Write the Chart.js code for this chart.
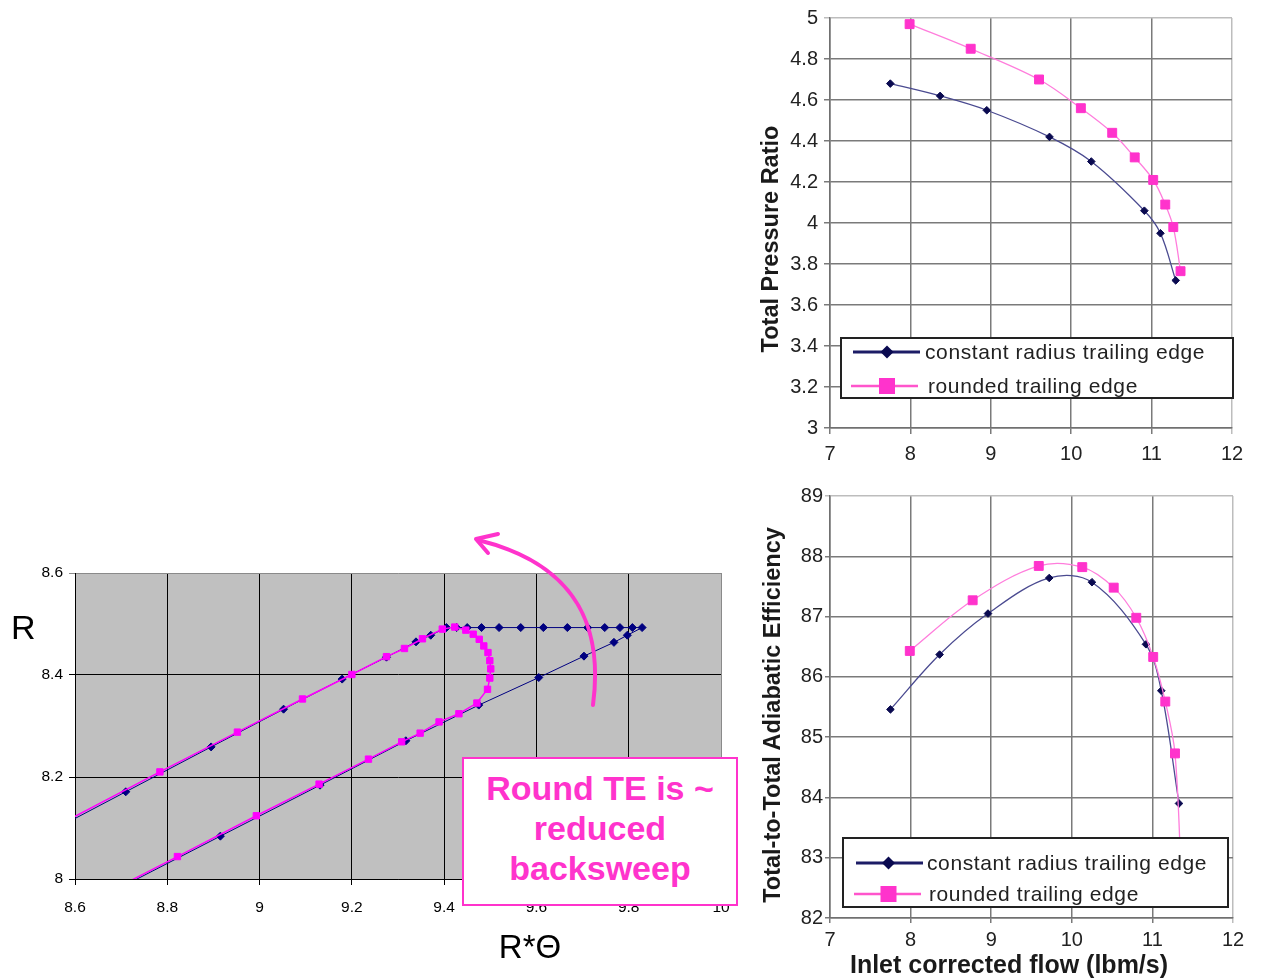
<!DOCTYPE html>
<html>
<head>
<meta charset="utf-8">
<script src="https://cdn.jsdelivr.net/npm/chart.js@4.4.1/dist/chart.umd.min.js"></script>
<style>
  html,body{margin:0;padding:0;background:#fff;}
  #page{position:relative;width:1262px;height:978px;overflow:hidden;background:#fff;font-family:'Liberation Sans',Arial,sans-serif;}
  canvas{position:absolute;display:block;}
  .lbl{position:absolute;white-space:nowrap;color:#000;}
  .ytitle{position:absolute;width:420px;height:30px;line-height:30px;text-align:center;font-weight:bold;font-size:23.5px;color:#1a1a1a;transform:rotate(-90deg);white-space:nowrap;}
  .legend{position:absolute;box-sizing:border-box;border:2px solid #222;background:#fff;}
  .legend svg{position:absolute;left:0;top:0;}
  .legend span{position:absolute;font-size:21px;letter-spacing:0.6px;line-height:26px;color:#222;white-space:nowrap;}
  #tebox{position:absolute;left:462px;top:757px;width:276px;height:149px;box-sizing:border-box;border:2px solid #ff33cc;background:#fff;
         padding-top:9px;text-align:center;font-weight:bold;font-size:34px;line-height:40px;color:#ff33cc;}
</style>
</head>
<body>
<div id="page">
  <canvas id="blade" width="760" height="438" style="left:0;top:540px;width:760px;height:438px;"></canvas>
  <canvas id="pr" width="522" height="470" style="left:740px;top:0;width:522px;height:470px;"></canvas>
  <canvas id="eff" width="522" height="508" style="left:740px;top:470px;width:522px;height:508px;"></canvas>

  <div class="lbl" style="left:11px;top:607px;font-size:34px;line-height:40px;">R</div>
  <div class="lbl" style="left:480px;top:927px;width:100px;text-align:center;font-size:33px;line-height:40px;">R*Θ</div>

  <svg width="1262" height="978" style="position:absolute;left:0;top:0;pointer-events:none;">
    <path d="M 593 705 C 603 630, 580 565, 478 540" fill="none" stroke="#ff33cc" stroke-width="4" stroke-linecap="round"/>
    <polyline points="498,534 476,539 488,553" fill="none" stroke="#ff33cc" stroke-width="4" stroke-linecap="round" stroke-linejoin="round"/>
  </svg>
  <div id="tebox">Round TE is ~<br>reduced<br>backsweep</div>

  <div class="ytitle" style="left:560px;top:224px;">Total Pressure Ratio</div>
  <div class="ytitle" style="left:562px;top:700px;">Total-to-Total Adiabatic Efficiency</div>
  <div class="lbl" style="left:809px;top:949px;width:400px;text-align:center;font-weight:bold;font-size:25px;line-height:30px;color:#1a1a1a;">Inlet corrected flow (lbm/s)</div>

  <div class="legend" style="left:840px;top:337px;width:394px;height:62px;">
    <svg width="390" height="58">
      <line x1="11" y1="13" x2="78" y2="13" stroke="#1c1c66" stroke-width="3"/>
      <polygon points="38.5,13 45,6.5 51.5,13 45,19.5" fill="#0a0a50"/>
      <line x1="9" y1="47" x2="76" y2="47" stroke="#ff55cc" stroke-width="2.5"/>
      <rect x="37" y="39" width="16" height="16" fill="#ff33cc"/>
    </svg>
    <span style="left:83px;top:0px;">constant radius trailing edge</span>
    <span style="left:86px;top:34px;">rounded trailing edge</span>
  </div>
  <div class="legend" style="left:842px;top:837px;width:387px;height:71px;">
    <svg width="383" height="67">
      <line x1="12" y1="24" x2="79" y2="24" stroke="#1c1c66" stroke-width="3"/>
      <polygon points="38,24 44.5,17.5 51,24 44.5,30.5" fill="#0a0a50"/>
      <line x1="10" y1="55" x2="77" y2="55" stroke="#ff55cc" stroke-width="2.5"/>
      <rect x="36.5" y="47" width="16" height="16" fill="#ff33cc"/>
    </svg>
    <span style="left:83px;top:11px;">constant radius trailing edge</span>
    <span style="left:85px;top:42px;">rounded trailing edge</span>
  </div>
</div>

<script>
// ---------- Blade trailing-edge geometry (R vs R*Theta) ----------
const constRTheta = [8.50, 8.710, 8.895, 9.052, 9.179, 9.275, 9.339, 9.371, 9.405, 9.427, 9.450, 9.481, 9.519, 9.566, 9.615, 9.667, 9.711, 9.748, 9.781, 9.808, 9.829, 9.797, 9.768, 9.703, 9.605, 9.475, 9.317, 9.131, 8.915, 8.67];
const constR      = [8.071, 8.171, 8.259, 8.333, 8.392, 8.435, 8.465, 8.478, 8.493, 8.493, 8.493, 8.493, 8.493, 8.493, 8.493, 8.493, 8.493, 8.493, 8.493, 8.493, 8.493, 8.478, 8.464, 8.437, 8.395, 8.341, 8.271, 8.184, 8.084, 7.970];
const roundRTheta = [8.55, 8.784, 8.952, 9.093, 9.200, 9.275, 9.314, 9.353, 9.396, 9.423, 9.447, 9.463, 9.476, 9.486, 9.495, 9.499, 9.501, 9.499, 9.494, 9.471, 9.432, 9.389, 9.348, 9.308, 9.236, 9.129, 8.993, 8.822, 8.62];
const roundR      = [8.099, 8.210, 8.288, 8.353, 8.401, 8.436, 8.452, 8.471, 8.490, 8.494, 8.488, 8.480, 8.470, 8.457, 8.444, 8.428, 8.412, 8.394, 8.372, 8.345, 8.324, 8.308, 8.286, 8.269, 8.235, 8.186, 8.124, 8.044, 7.950];

// ---------- Total pressure ratio vs inlet corrected flow ----------
const prFlowConst  = [7.75, 8.37, 8.95, 9.73, 10.25, 10.91, 11.11, 11.30];
const prConst      = [4.68, 4.62, 4.55, 4.42, 4.30, 4.06, 3.95, 3.72];
const prFlowRound  = [7.99, 8.75, 9.60, 10.12, 10.51, 10.79, 11.02, 11.17, 11.27, 11.36];
const prRound      = [4.97, 4.85, 4.70, 4.56, 4.44, 4.32, 4.21, 4.09, 3.98, 3.765];

// ---------- Total-to-total adiabatic efficiency vs inlet corrected flow ----------
const effFlowConst = [7.75, 8.36, 8.96, 9.72, 10.25, 10.92, 11.11, 11.33];
const effConst     = [85.46, 86.37, 87.05, 87.64, 87.57, 86.54, 85.77, 83.90];
const effFlowRound = [7.99, 8.77, 9.59, 10.13, 10.52, 10.80, 11.01, 11.16, 11.28, 11.36];
const effRound     = [86.43, 87.27, 87.84, 87.82, 87.48, 86.98, 86.33, 85.59, 84.73, 82.6];

// ---------- axis ranges / tick steps ----------
const bladeX = {min: 8.6, max: 10, step: 0.2};
const bladeY = {min: 8, max: 8.6, step: 0.2};
const flowX  = {min: 7, max: 12, step: 1};
const prY    = {min: 3, max: 5, step: 0.2};
const effY   = {min: 82, max: 89, step: 1};

const seriesNames = ['constant radius trailing edge', 'rounded trailing edge'];

const pts = (xs, ys) => xs.map((x, i) => ({x: x, y: ys[i]}));
const fmt = v => String(Math.round(v * 100) / 100);

Chart.defaults.font.family = "'Liberation Sans', Arial, sans-serif";

const plotBg = {
  id: 'plotBg',
  beforeDraw(chart, args, opts) {
    if (!opts || !opts.color) return;
    const a = chart.chartArea, ctx = chart.ctx;
    ctx.save();
    ctx.fillStyle = opts.color;
    ctx.fillRect(a.left, a.top, a.right - a.left, a.bottom - a.top);
    ctx.restore();
  }
};

function axis(r, o) {
  return {
    type: 'linear', min: r.min, max: r.max,
    ticks: {stepSize: r.step, callback: fmt, color: o.tickColor, font: {size: o.fontSize},
            padding: o.padding, maxRotation: 0, autoSkip: false},
    grid: {color: c => (c.tick && Math.abs(c.tick.value - r.max) < 1e-9) ? o.edgeColor : o.gridColor,
           lineWidth: o.gridWidth, tickLength: o.tickLength},
    border: {color: o.axisColor, width: o.gridWidth},
    afterFit: o.fit
  };
}

// Chart 1: blade geometry
new Chart(document.getElementById('blade'), {
  type: 'scatter',
  data: {datasets: [
    {label: seriesNames[1], data: pts(roundRTheta, roundR), showLine: true, tension: 0,
     borderColor: '#ff00ff', borderWidth: 1.5, pointStyle: 'rect', pointRadius: 4.5,
     pointBackgroundColor: '#ff00ff', pointBorderColor: '#ff00ff', pointBorderWidth: 1, order: 0, clip: 0},
    {label: seriesNames[0], data: pts(constRTheta, constR), showLine: true, tension: 0,
     borderColor: '#000080', borderWidth: 1, pointStyle: 'rectRot', pointRadius: 4,
     pointBackgroundColor: '#000080', pointBorderColor: '#000080', pointBorderWidth: 1, order: 1, clip: 0}
  ]},
  options: {
    responsive: false, animation: false, events: [],
    layout: {padding: {left: 0, top: 33, right: 39, bottom: 59}},
    plugins: {legend: {display: false}, tooltip: {enabled: false}, plotBg: {color: '#c0c0c0'}},
    scales: {
      x: axis(bladeX, {tickColor: '#000', fontSize: 15.5, padding: 13, tickLength: 6, gridColor: '#000', edgeColor: '#8a8a8a', gridWidth: 1, axisColor: '#000', fit: s => { s.height = 40; }}),
      y: axis(bladeY, {tickColor: '#000', fontSize: 15.5, padding: 6, tickLength: 6, gridColor: '#000', edgeColor: '#8a8a8a', gridWidth: 1, axisColor: '#000', fit: s => { s.width = 75; }})
    }
  },
  plugins: [plotBg]
});

function perfChart(id, cx, cy, rx, ry, yr, pad, xo, yo) {
  return new Chart(document.getElementById(id), {
    type: 'scatter',
    data: {datasets: [
      {label: seriesNames[1], data: pts(rx, ry), showLine: true, tension: 0.35,
       borderColor: '#ff7ddc', borderWidth: 1.3, pointStyle: 'rect', pointRadius: 6.3,
       pointBackgroundColor: '#ff33cc', pointBorderColor: '#ff33cc', pointBorderWidth: 1, order: 0},
      {label: seriesNames[0], data: pts(cx, cy), showLine: true, tension: 0.35,
       borderColor: '#4a4a90', borderWidth: 1.3, pointStyle: 'rectRot', pointRadius: 3.8,
       pointBackgroundColor: '#0a0a50', pointBorderColor: '#0a0a50', pointBorderWidth: 1, order: 1}
    ]},
    options: {
      responsive: false, animation: false, events: [],
      layout: {padding: pad},
      plugins: {legend: {display: false}, tooltip: {enabled: false}},
      scales: {
        x: axis(flowX, Object.assign({tickColor: '#222', fontSize: 20, gridColor: '#7a7a7a', edgeColor: '#bdbdbd', gridWidth: 1.5, axisColor: '#707070', fit: s => { s.height = 40; }}, xo)),
        y: axis(yr, Object.assign({tickColor: '#222', fontSize: 20, gridColor: '#7a7a7a', edgeColor: '#bdbdbd', gridWidth: 1.5, axisColor: '#707070', fit: s => { s.width = 90; }}, yo))
      }
    }
  });
}

perfChart('pr', prFlowConst, prConst, prFlowRound, prRound, prY,
  {left: 0, top: 15, right: 30, bottom: 2},
  {padding: 8, tickLength: 6}, {padding: 6, tickLength: 6});
perfChart('eff', effFlowConst, effConst, effFlowRound, effRound, effY,
  {left: 0, top: 26, right: 29, bottom: 20},
  {padding: 5, tickLength: 5}, {padding: 2, tickLength: 5});
</script>
</body>
</html>
